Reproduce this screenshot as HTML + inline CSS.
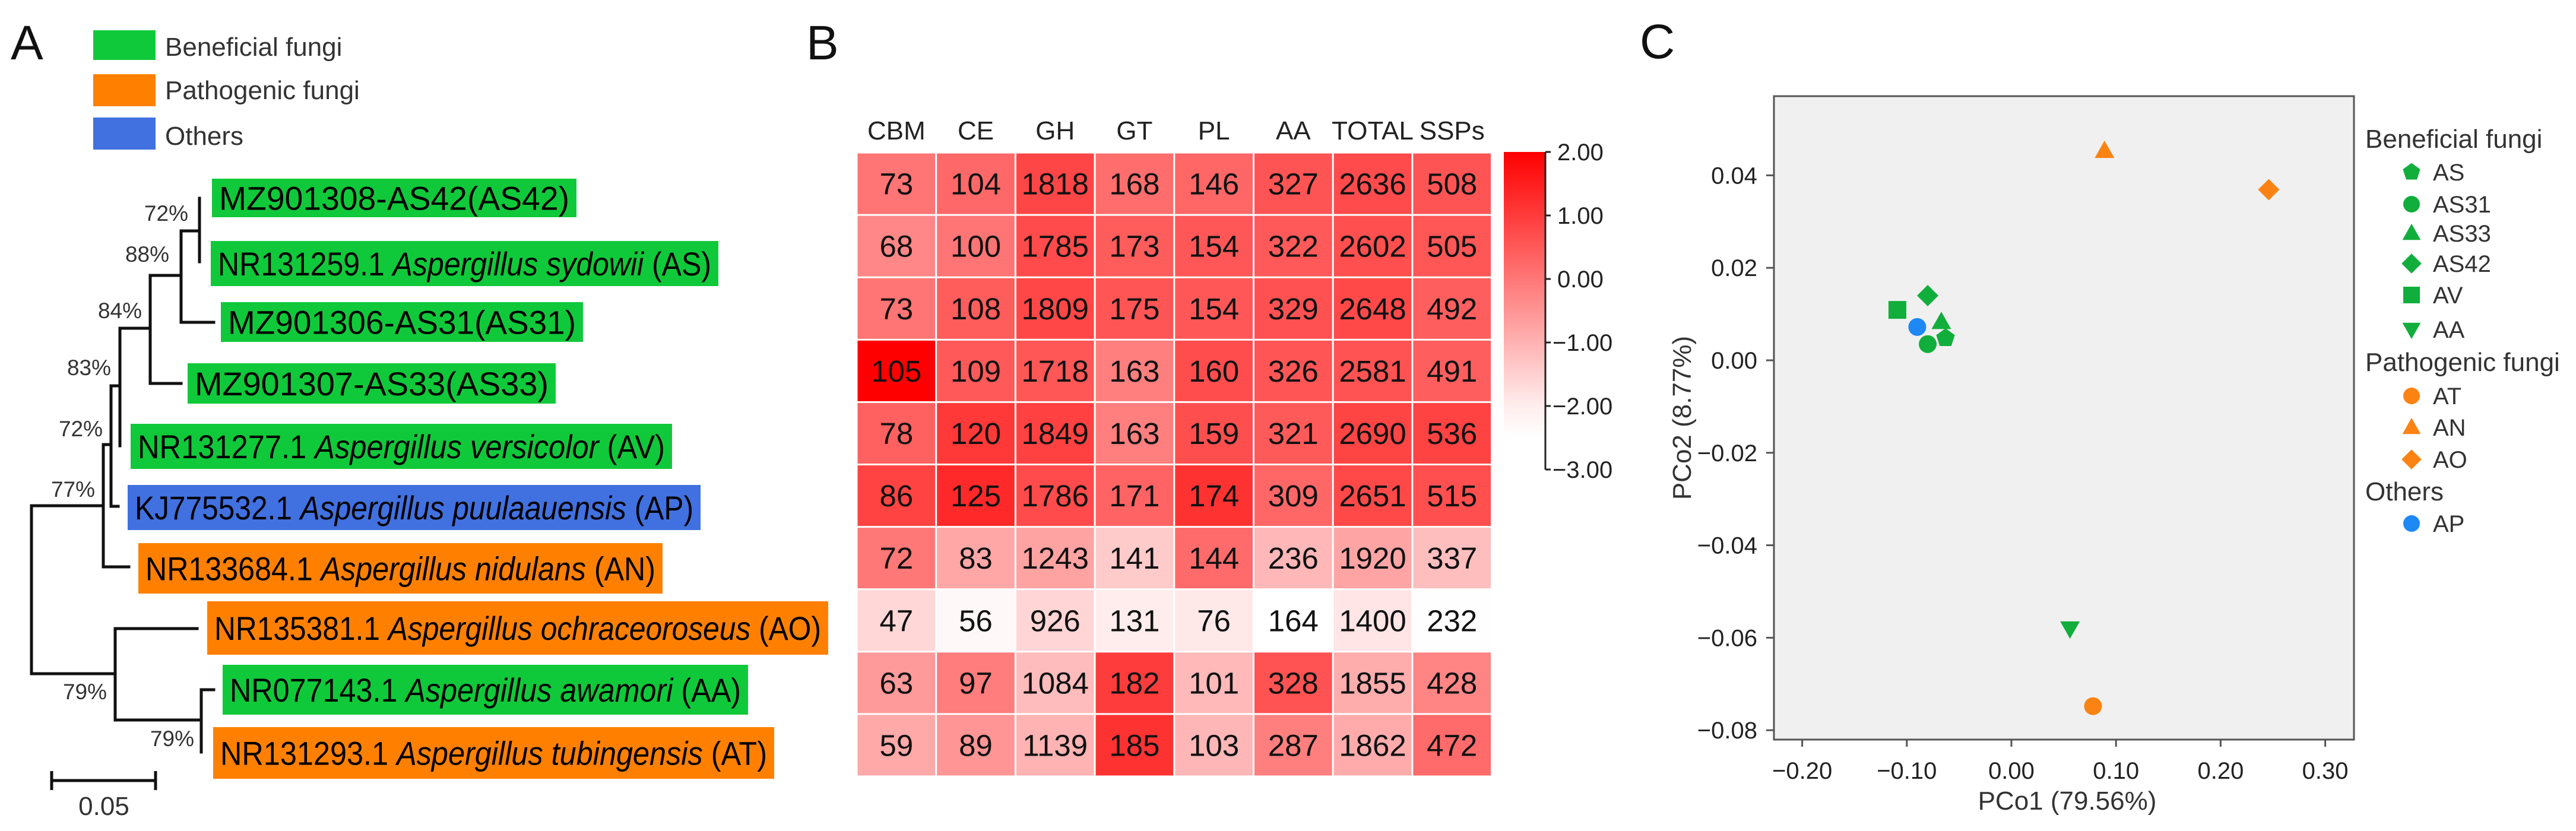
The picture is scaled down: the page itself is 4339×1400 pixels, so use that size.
<!DOCTYPE html>
<html><head><meta charset="utf-8"><style>
html,body{margin:0;padding:0;background:#fff}
svg{display:block;font-family:"Liberation Sans",Arial,sans-serif}
</style></head><body>
<svg id="fig" width="4339" height="1400" viewBox="0 0 4339 1400" xmlns="http://www.w3.org/2000/svg">
<rect x="0" y="0" width="4339" height="1400" fill="#fff"/>
<text x="18" y="100" font-size="82" fill="#111">A</text>
<text x="1358" y="100" font-size="82" fill="#111">B</text>
<text x="2762" y="98" font-size="82" fill="#111">C</text>

<g>
<rect x="157" y="51" width="105" height="50" fill="#10c93a"/>
<text x="278" y="94" font-size="44" fill="#333">Beneficial fungi</text>
<rect x="157" y="125" width="105" height="54" fill="#ff8000"/>
<text x="278" y="167" font-size="44" fill="#333">Pathogenic fungi</text>
<rect x="157" y="198" width="105" height="54" fill="#4170e0"/>
<text x="278" y="244" font-size="44" fill="#333">Others</text>
</g>

<g id="tree"></g>
<g id="heat"></g>
<g id="pco"></g>
</svg>
<script>
const NS="http://www.w3.org/2000/svg";
function mk(tag,attrs,parent,text){const e=document.createElementNS(NS,tag);for(const k in attrs)e.setAttribute(k,attrs[k]);if(text!==undefined)e.textContent=text;parent.appendChild(e);return e;}

/* ---------- Panel A: tree ---------- */
const tree=document.getElementById('tree');
const treeLines=[
 "M336,334V441","M305,389H336","M305,389V543","M305,543H360","M253,464H305",
 "M253,464V646","M253,646H305","M202,553H253","M202,553V751","M187,650H202",
 "M187,650V853","M187,853H199","M174,749H187","M174,749V955","M174,955H217",
 "M53,852H174","M53,852V1135","M53,1135H194","M194,1059V1213","M194,1059H332",
 "M194,1213H339","M339,1162V1267","M339,1162H360"
];
treeLines.forEach(d=>{
 const p=mk('path',{d:d,stroke:'#111','stroke-width':5,fill:'none','stroke-linecap':'square'},tree);
 
 
});
const sb=mk('path',{d:"M87,1315H262M87,1299V1331M262,1299V1331",stroke:'#111','stroke-width':5,fill:'none'},tree);


const sbt=mk('text',{x:175,y:1373,'font-size':44,fill:'#333','text-anchor':'middle'},tree,'0.05');


const boots=[[280,359,'72%'],[248,428,'88%'],[202,523,'84%'],[150,619,'83%'],[136,722,'72%'],[123,824,'77%'],[143,1165,'79%'],[290,1244,'79%']];
boots.forEach(b=>{
 const t=mk('text',{x:b[0],y:b[1]+13,'font-size':37,fill:'#333','text-anchor':'middle'},tree,b[2]);
 
 
});
const C={g:'#10c93a',o:'#ff8000',b:'#4170e0'};
const taxa=[
 [357,971,301,366,'g','MZ901308-AS42','','(AS42)'],
 [355,1210,406,482,'g','NR131259.1 ','Aspergillus sydowii',' (AS)'],
 [372,982,509,576,'g','MZ901306-AS31','','(AS31)'],
 [316,936,612,680,'g','MZ901307-AS33','','(AS33)'],
 [220,1132,714,790,'g','NR131277.1 ','Aspergillus versicolor',' (AV)'],
 [215,1180,817,893,'b','KJ775532.1 ','Aspergillus puulaauensis',' (AP)'],
 [233,1116,915,1000,'o','NR133684.1 ','Aspergillus nidulans',' (AN)'],
 [349,1395,1013,1103,'o','NR135381.1 ','Aspergillus ochraceoroseus',' (AO)'],
 [375,1260,1120,1204,'g','NR077143.1 ','Aspergillus awamori',' (AA)'],
 [359,1304,1225,1312,'o','NR131293.1 ','Aspergillus tubingensis',' (AT)']
];
taxa.forEach(t=>{
 const r=mk('rect',{x:t[0],y:t[2],width:t[1]-t[0],height:t[3]-t[2],fill:C[t[4]]},tree);
 
 
 const cy=(t[2]+t[3])/2;
 const tx=mk('text',{x:t[0]+12,y:cy+20,'font-size':56,fill:'#000',textLength:t[1]-t[0]-24,lengthAdjust:'spacingAndGlyphs','xml:space':'preserve'},tree);
 
 
 mk('tspan',{},tx,t[5]);
 if(t[6]) mk('tspan',{'font-style':'italic'},tx,t[6]);
 mk('tspan',{},tx,t[7]);
});

/* ---------- Panel B: heatmap ---------- */
const heatCols=['CBM','CE','GH','GT','PL','AA','TOTAL','SSPs'];
const r1=[73,104,1818,168,146,327,2636,508];
const r2=[68,100,1785,173,154,322,2602,505];
const r3=[73,108,1809,175,154,329,2648,492];
const r4=[105,109,1718,163,160,326,2581,491];
const r5=[78,120,1849,163,159,321,2690,536];
const r6=[86,125,1786,171,174,309,2651,515];
const r7=[72,83,1243,141,144,236,1920,337];
const r8=[47,56,926,131,76,164,1400,232];
const r9=[63,97,1084,182,101,328,1855,428];
const r10=[59,89,1139,185,103,287,1862,472];
const heatRows=[r1,r2,r3,r4,r5,r6,r7,r8,r9,r10];
const cbTicks=['2.00','1.00','0.00','\u22121.00','\u22122.00','\u22123.00'];
const cbVals=[2,1,0,-1,-2,-3];

const heat=document.getElementById('heat');
const hx0=1443,hy0=257,cw=133.7,rh=105.1;
const xCol=i=>hx0+i*cw, yRow=j=>hy0+j*rh;
function colorFor(z){let t=(z+2.3)/4.3;t=Math.max(0,Math.min(1,t));const g=Math.round(255*(1-t));return `rgb(255,${g},${g})`;}
const stats=heatCols.map((c,i)=>{const v=heatRows.map(r=>r[i]);const m=v.reduce((a,b)=>a+b,0)/v.length;const sd=Math.sqrt(v.reduce((a,b)=>a+(b-m)*(b-m),0)/(v.length-1));return [m,sd];});
heatCols.forEach((c,i)=>{
 const t=mk('text',{x:xCol(i)+cw/2,y:235,'font-size':44,fill:'#222','text-anchor':'middle'},heat,c);
 
 
});
heatRows.forEach((row,j)=>{
 row.forEach((v,i)=>{
  const z=(v-stats[i][0])/stats[i][1];
  const r=mk('rect',{x:xCol(i)+1.5,y:yRow(j)+1.5,width:cw-3,height:rh-3,fill:colorFor(z)},heat);
  
  
  const t=mk('text',{x:xCol(i)+cw/2,y:yRow(j)+rh/2+18,'font-size':51,fill:'#111','text-anchor':'middle'},heat,String(v));
  
  
 });
});
const defs=mk('defs',{},heat);
const lg=mk('linearGradient',{id:'cbg',x1:0,y1:0,x2:0,y2:1},defs);
for(let k=0;k<=10;k++){const v=2-k*0.5;mk('stop',{offset:k/10,'stop-color':colorFor(v)},lg);}
const cbTop=256,cbBot=791,cbX=2533,cbW=70;
const cbY=v=>cbTop+(2-v)/5*(cbBot-cbTop);
const cb=mk('rect',{x:cbX,y:cbTop,width:cbW+1,height:cbBot-cbTop,fill:'url(#cbg)'},heat);


const cbl=mk('line',{x1:cbX+cbW,y1:cbTop,x2:cbX+cbW,y2:cbBot,stroke:'#222','stroke-width':3},heat);


cbVals.forEach((v,k)=>{
 const y=cbY(v);
 const tk=mk('line',{x1:cbX+cbW,y1:y,x2:cbX+cbW+9,y2:y,stroke:'#222','stroke-width':3},heat);
 
 
 const t=mk('text',{x:cbX+cbW+(v<0?12:20),y:y+14,'font-size':40,fill:'#222'},heat,cbTicks[k]);
 
 
});

/* ---------- Panel C: PCoA ---------- */
const pSamples=['AS','AS31','AS33','AS42','AV','AA','AT','AN','AO','AP'];
const pX=[-0.063,-0.080,-0.067,-0.080,-0.109,0.056,0.078,0.089,0.246,-0.090];
const pY=[0.0048,0.0035,0.0083,0.0140,0.0109,-0.058,-0.0748,0.0453,0.0369,0.0072];
const pShape=['pent','circ','tri','dia','sq','dtri','circ','tri','dia','circ'];
const pGroup=['g','g','g','g','g','g','o','o','o','b'];
const xTicks=[-0.2,-0.1,0,0.1,0.2,0.3];
const xTickLabels=['\u22120.20','\u22120.10','0.00','0.10','0.20','0.30'];
const yTicks=[0.04,0.02,0,-0.02,-0.04,-0.06,-0.08];
const yTickLabels=['0.04','0.02','0.00','\u22120.02','\u22120.04','\u22120.06','\u22120.08'];

const pco=document.getElementById('pco');
const bx0=2988,bx1=3965,by0=162,by1=1246;
const sx=v=>3388+v*1762;
const sy=v=>607-v*7790;
const PC={g:'#12ae3c',o:'#fb8314',b:'#1e88f5'};
const bg=mk('rect',{x:bx0,y:by0,width:bx1-bx0,height:by1-by0,fill:'#f0f0f0',stroke:'#555','stroke-width':3},pco);


xTicks.forEach((v,k)=>{
 const x=sx(v);
 const l=mk('line',{x1:x,y1:by1,x2:x,y2:by1+12,stroke:'#555','stroke-width':3},pco);
 
 
 const t=mk('text',{x:x,y:by1+66,'font-size':40,fill:'#222','text-anchor':'middle'},pco,xTickLabels[k]);
 
 
});
yTicks.forEach((v,k)=>{
 const y=sy(v);
 const l=mk('line',{x1:bx0-13,y1:y,x2:bx0,y2:y,stroke:'#555','stroke-width':3},pco);
 
 
 const t=mk('text',{x:2960,y:y+14,'font-size':40,fill:'#222','text-anchor':'end'},pco,yTickLabels[k]);
 
 
});
const xt=mk('text',{x:3482,y:1364,'font-size':44,fill:'#333','text-anchor':'middle'},pco,'PCo1 (79.56%)');


const yt=mk('text',{x:0,y:0,'font-size':44,fill:'#333','text-anchor':'middle',transform:'translate(2848,704) rotate(-90)'},pco,'PCo2 (8.77%)');



function marker(shape,x,y,s,fill,parent){
 let e;
 if(shape==='circ') e=mk('circle',{cx:x,cy:y,r:s},parent);
 else if(shape==='sq') e=mk('rect',{x:x-s,y:y-s,width:2*s,height:2*s},parent);
 else {
  let pts;
  if(shape==='tri') pts=[[x,y-s*1.15],[x+s*1.1,y+s*0.8],[x-s*1.1,y+s*0.8]];
  else if(shape==='dtri') pts=[[x,y+s*1.15],[x+s*1.1,y-s*0.8],[x-s*1.1,y-s*0.8]];
  else if(shape==='dia') pts=[[x,y-s*1.2],[x+s*1.2,y],[x,y+s*1.2],[x-s*1.2,y]];
  else {pts=[];for(let k=0;k<5;k++){const a=-Math.PI/2+k*2*Math.PI/5;pts.push([x+s*1.1*Math.cos(a),y+s*1.1*Math.sin(a)]);}}
  e=mk('polygon',{points:pts.map(p=>p.join(',')).join(' ')},parent);
 }
 e.setAttribute('fill',fill);
 return e;
}
pSamples.forEach((n,i)=>{
 const m=marker(pShape[i],sx(pX[i]),sy(pY[i]),15,PC[pGroup[i]],pco);
 
 
});
const legEntries=[
 ['h','Beneficial fungi',234],['AS','pent','g',290],['AS31','circ','g',344],['AS33','tri','g',393],['AS42','dia','g',444],['AV','sq','g',497],['AA','dtri','g',555],
 ['h','Pathogenic fungi',610],['AT','circ','o',667],['AN','tri','o',720],['AO','dia','o',774],
 ['h','Others',828],['AP','circ','b',882]
];
legEntries.forEach(e=>{
 if(e[0]==='h'){
  const t=mk('text',{x:3984,y:e[2]+15,'font-size':44,fill:'#333'},pco,e[1]);
  
  
 } else {
  const m=marker(e[1],4062,e[3],14,PC[e[2]],pco);
  
  
  const t=mk('text',{x:4098,y:e[3]+14,'font-size':40,fill:'#333'},pco,e[0]);
  
  
 }
});
</script>
</body></html>
